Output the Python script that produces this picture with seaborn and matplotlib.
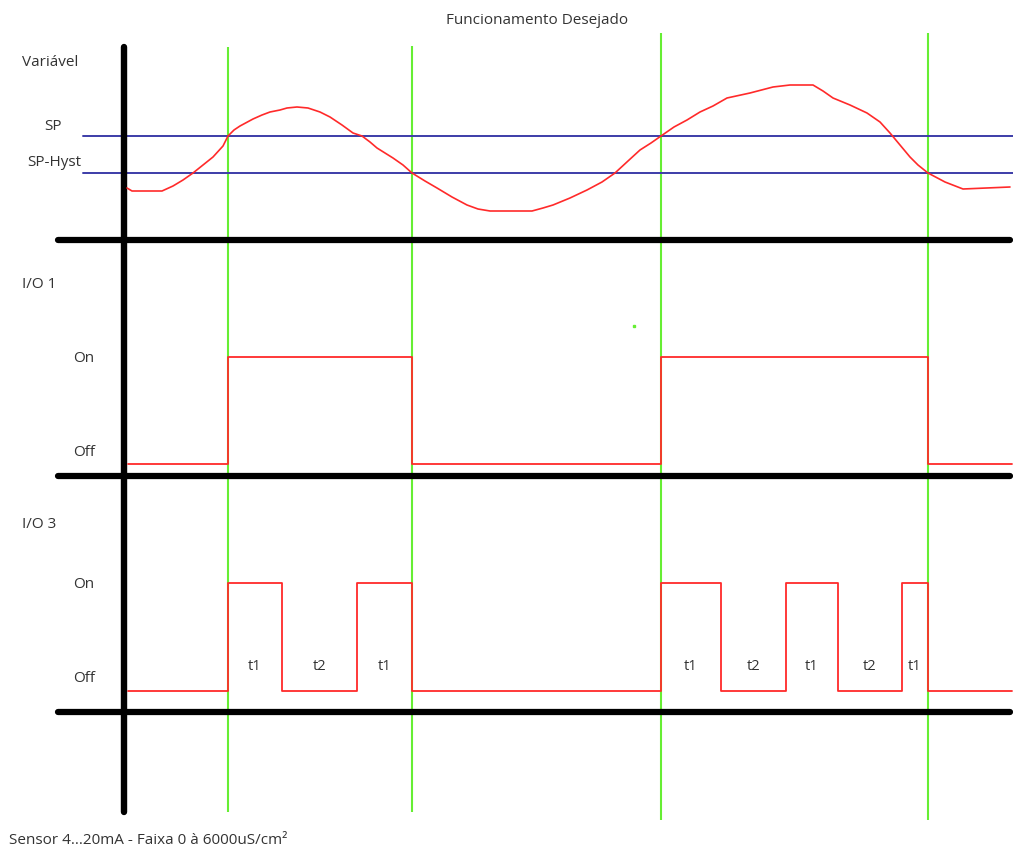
import matplotlib
matplotlib.use("Agg")
import matplotlib.pyplot as plt
import seaborn as sns
import pandas as pd
import numpy as np

sns.set_theme(style="white")
plt.rcParams['font.family'] = ['Open Sans', 'DejaVu Sans']

# ---------------- data ----------------
# process variable (x = time in px units, y = drawing level)
var_t = [127, 132, 162, 173, 183, 193, 203, 213, 223, 228, 234, 240, 253, 262, 270, 280,
         287, 297, 308, 320, 330, 342, 353, 362, 370, 377, 385, 393, 403, 412, 425, 437,
         452, 467, 478, 490, 532, 543, 553, 570, 587, 602, 615, 628, 640, 651, 661, 674,
         687, 700, 713, 727, 750, 773, 790, 813, 823, 833, 850, 867, 880, 890, 900, 910,
         918, 928, 945, 963, 1010]
var_y = [188, 191, 191, 186, 180, 173, 165, 157, 146, 136, 130, 126, 119, 115, 112, 110,
         108, 107, 108, 112, 117, 125, 133, 136, 142, 148, 153, 158, 165, 173, 181, 188,
         197, 205, 209, 211, 211, 208, 205, 198, 190, 182, 173, 161, 150, 143, 136, 127,
         120, 112, 106, 98, 93, 87, 85, 85, 91, 98, 105, 113, 122, 133, 145, 157,
         165, 173, 182, 189, 187]
sp_level = 136
sp_hyst_level = 173

# switching instants (green markers)
switch_t = [228, 412, 661, 928]

# I/O 1 : edges and states (0 = Off, 1 = On)
io1_edges = [128, 228, 412, 661, 928, 1012]
io1_state = [0, 1, 0, 1, 0]

# I/O 3 : edges and states
io3_edges = [128, 228, 282, 357, 412, 661, 721, 786, 838, 902, 928, 1012]
io3_state = [0, 1, 0, 1, 0, 1, 0, 1, 0, 1, 0]
io3_seg_labels = ["", "t1", "t2", "t1", "", "t1", "t2", "t1", "t2", "t1", ""]

title = "Funcionamento Desejado"
footer = "Sensor 4...20mA - Faixa 0 à 6000uS/cm²"

# ---------------- layout ----------------
W, H = 1013, 848
fig = plt.figure(figsize=(W / 100, H / 100), dpi=100)
ax = fig.add_axes([0, 0, 1, 1])

RED = "#ff2a2a"
GREEN = "#66ee33"
BLUE = "#3c3ca8"
TXT = "#333333"

io1_y = {0: 464, 1: 357}
io3_y = {0: 691, 1: 583}

# green switch markers
green_tops = [47, 46, 33, 33]
green_bots = [812, 812, 820, 820]
for t, y0, y1 in zip(switch_t, green_tops, green_bots):
    ax.plot([t, t], [y0, y1], color=GREEN, lw=1.5, zorder=2, solid_capstyle="butt")
ax.plot([634], [326], marker="s", ms=1.5, color=GREEN, lw=0)

# setpoint lines
for lvl in (sp_level, sp_hyst_level):
    ax.plot([83, 1013], [lvl, lvl], color=BLUE, lw=1.4, zorder=3)

# black axes
ax.plot([124, 124], [47, 812], color="black", lw=4.6, solid_capstyle="round", zorder=4)
for yb in (240, 476, 712):
    ax.plot([58, 1010], [yb, yb], color="black", lw=4.5, solid_capstyle="round", zorder=4)

# variable curve
df_var = pd.DataFrame({"t": var_t, "y": var_y})
sns.lineplot(data=df_var, x="t", y="y", ax=ax, color=RED, lw=1.2, sort=False,
             estimator=None, zorder=5)

# step signals
def step_df(edges, states, ymap):
    xs = list(edges)
    ys = [ymap[s] for s in states] + [ymap[states[-1]]]
    return pd.DataFrame({"t": xs, "y": ys})

sns.lineplot(data=step_df(io1_edges, io1_state, io1_y), x="t", y="y", ax=ax, color=RED,
             lw=1.3, sort=False, estimator=None, drawstyle="steps-post", zorder=5)
sns.lineplot(data=step_df(io3_edges, io3_state, io3_y), x="t", y="y", ax=ax, color=RED,
             lw=1.3, sort=False, estimator=None, drawstyle="steps-post", zorder=5)

ax.set_xlim(0, W)
ax.set_ylim(H, 0)
ax.axis("off")

# t1/t2 labels
for a, b, lab in zip(io3_edges[:-1], io3_edges[1:], io3_seg_labels):
    if lab:
        ax.text((a + b) / 2, 666, lab, ha="center", va="center", fontsize=10.5, color=TXT)

# texts
fs = 11
ax.text(537, 20, title, ha="center", va="center", fontsize=fs, color=TXT)
ax.text(22, 62, "Variável", ha="left", va="center", fontsize=fs, color=TXT)
ax.text(44, 127, "SP", ha="left", va="center", fontsize=fs, color=TXT)
ax.text(27, 163, "SP-Hyst", ha="left", va="center", fontsize=fs, color=TXT)
ax.text(22, 284, "I/O 1", ha="left", va="center", fontsize=fs, color=TXT)
ax.text(73, 358, "On", ha="left", va="center", fontsize=fs, color=TXT)
ax.text(73, 452, "Off", ha="left", va="center", fontsize=fs, color=TXT)
ax.text(22, 525, "I/O 3", ha="left", va="center", fontsize=fs, color=TXT)
ax.text(73, 584, "On", ha="left", va="center", fontsize=fs, color=TXT)
ax.text(73, 679, "Off", ha="left", va="center", fontsize=fs, color=TXT)
ax.text(9, 840, footer, ha="left", va="center", fontsize=fs, color=TXT)

fig.savefig("out.png", dpi=100)
